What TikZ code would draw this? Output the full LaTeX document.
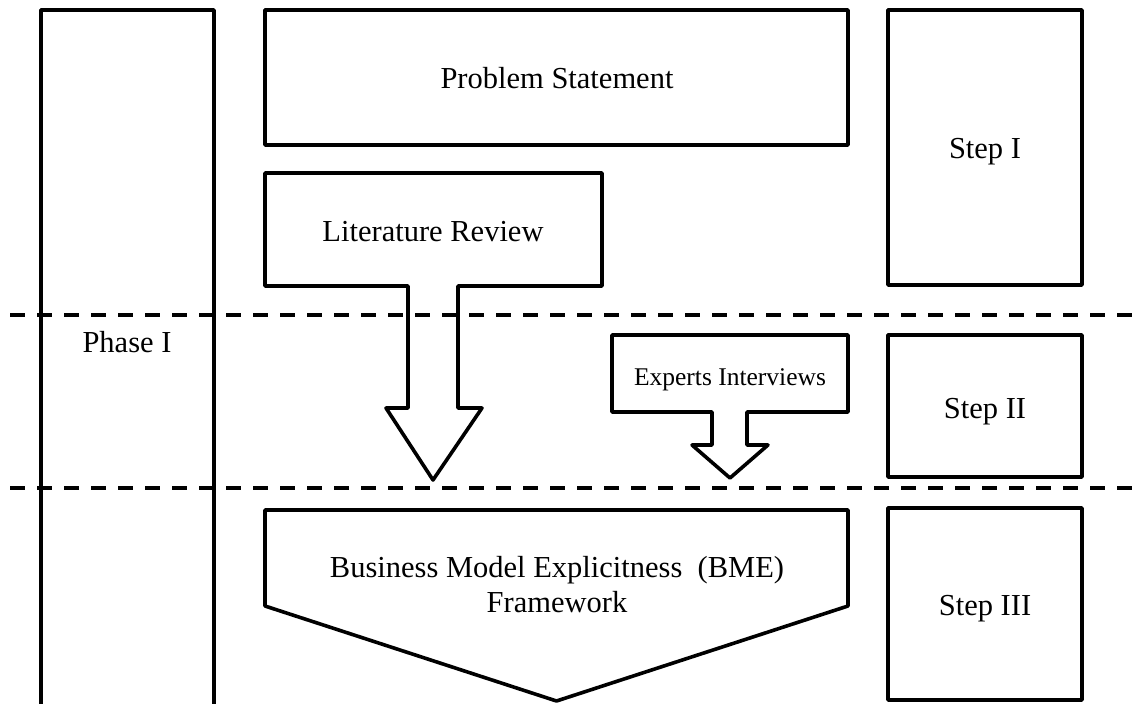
\documentclass[tikz,border=0pt]{standalone}
\usepackage{fontspec}
\setmainfont{Liberation Serif}
\begin{document}
\begin{tikzpicture}[x=1pt,y=-1pt,
  outline/.style={draw=black, line width=3.6pt, line join=round},
  separator/.style={draw=black, line width=3.6pt, dash pattern=on 15pt off 12pt},
  txt/.style={inner sep=0pt, font=\fontsize{30.5}{35}\selectfont, anchor=base},
  smalltxt/.style={inner sep=0pt, font=\fontsize{25.5}{30}\selectfont, anchor=base}]
  \fill[white] (0,0) rectangle (1138,704);
  \useasboundingbox (0,0) rectangle (1138,704);

  % phase column (open at the bottom)
  \draw[outline] (41,712) -- (41,10) -- (214,10) -- (214,712);

  % problem statement
  \draw[outline] (265,10) rectangle (848,145);

  % literature review: box with a wide down arrow
  \draw[outline] (433,480) -- (386,408) -- (408,408) -- (408,286) -- (265,286)
    -- (265,173) -- (602,173) -- (602,286) -- (458,286) -- (458,408)
    -- (482,408) -- cycle;

  % experts interviews: box with a short down arrow
  \draw[outline] (730,478) -- (692,445) -- (712,445) -- (712,412) -- (612,412)
    -- (612,335) -- (848,335) -- (848,412) -- (747,412) -- (747,445)
    -- (768,445) -- cycle;

  % BME framework: pentagon pointing down
  \draw[outline] (265,510) -- (848,510) -- (848,606) -- (556.5,701) -- (265,606) -- cycle;

  % step boxes
  \draw[outline] (888,10) rectangle (1082,285);
  \draw[outline] (888,335) rectangle (1082,477);
  \draw[outline] (888,508) rectangle (1082,700);

  % step separators
  \draw[separator] (10,315) -- (1140,315);
  \draw[separator] (10,488) -- (1140,488);

  % labels (a multi-line node sits on the baseline of its last line)
  \node[txt] (ps) at (557,88) {Problem Statement};
  \node[txt] (lr) at (433,241) {Literature Review};
  \node[smalltxt] (ei) at (730,385) {Experts Interviews};
  \node[txt, align=center] (bme) at (557,612) {Business Model Explicitness\ \ (BME)\\Framework};
  \node[txt] (ph) at (127,352) {Phase I};
  \node[txt] (s1) at (985,158) {Step I};
  \node[txt] (s2) at (985,418) {Step II};
  \node[txt] (s3) at (985,615) {Step III};
\end{tikzpicture}
\end{document}
